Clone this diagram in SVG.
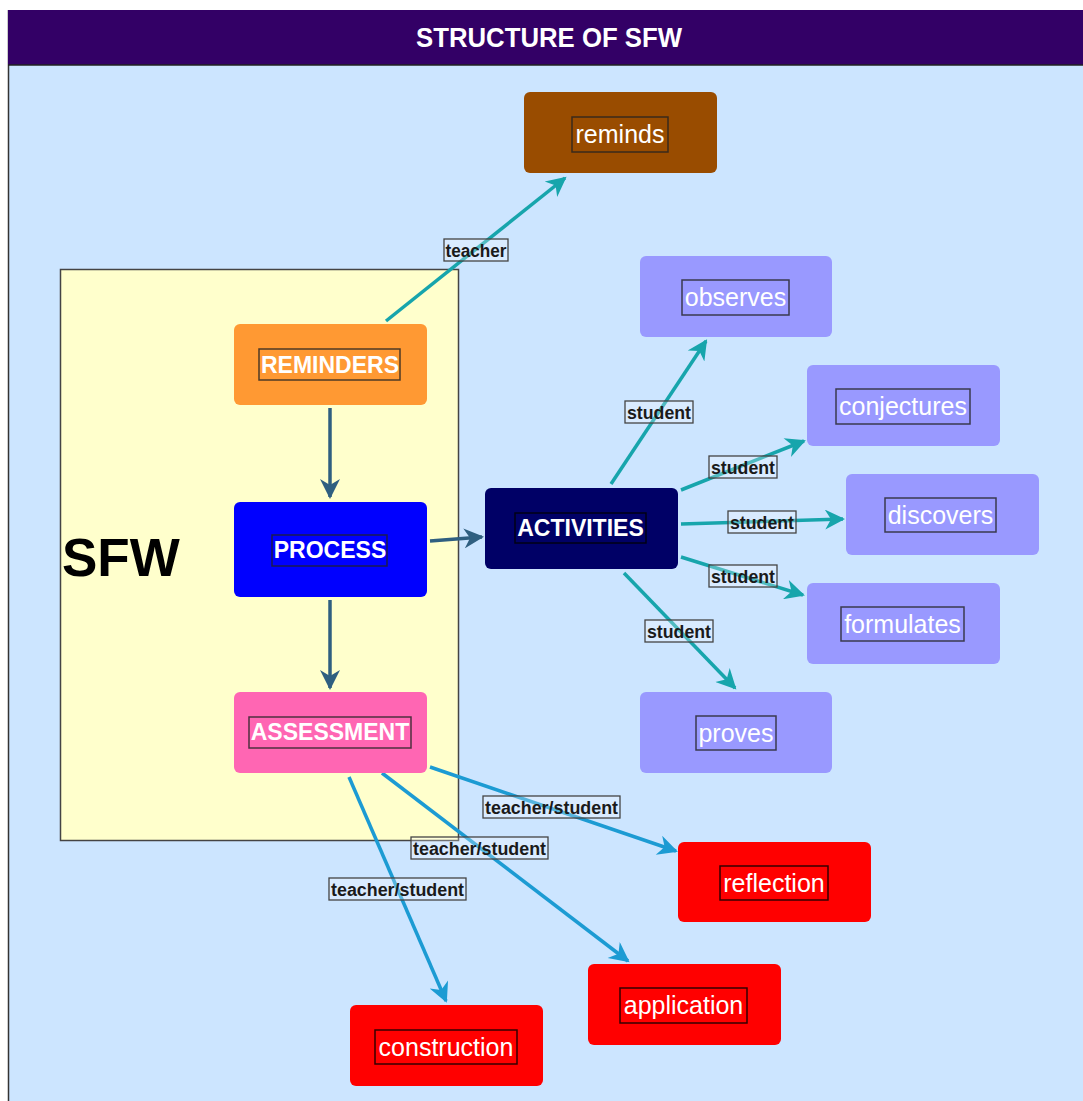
<svg xmlns="http://www.w3.org/2000/svg" width="1083" height="1101" viewBox="0 0 1083 1101">
<style>
.node{stroke:none}
.lb{fill:none;stroke:#222;stroke-width:1.5;stroke-opacity:0.8}
.bt{font-family:"Liberation Sans",Arial,sans-serif;font-weight:bold;font-size:23px;fill:#fff;text-anchor:middle}
.nt{font-family:"Liberation Sans",Arial,sans-serif;font-size:25px;fill:#fff;text-anchor:middle}
.el{fill:#fff;fill-opacity:0.25;stroke:#444;stroke-width:1.3}
.et{font-family:"Liberation Sans",Arial,sans-serif;font-weight:bold;font-size:18px;fill:#1a1a1a;text-anchor:middle}
.c1{stroke:#2F5F80;stroke-width:3.5;fill:none}
.c2{stroke:#17A5AC;stroke-width:3.5;fill:none}
.c3{stroke:#1C9BD3;stroke-width:3.5;fill:none}
</style>
<defs>
<marker id="a1" viewBox="0 0 10 10" refX="9" refY="5" markerUnits="userSpaceOnUse" markerWidth="22" markerHeight="20" orient="auto"><path d="M0,0 L10,5 L0,10 L3,5 z" fill="#2F5F80"/></marker>
<marker id="a2" viewBox="0 0 10 10" refX="9" refY="5" markerUnits="userSpaceOnUse" markerWidth="22" markerHeight="20" orient="auto"><path d="M0,0 L10,5 L0,10 L3,5 z" fill="#17A5AC"/></marker>
<marker id="a3" viewBox="0 0 10 10" refX="9" refY="5" markerUnits="userSpaceOnUse" markerWidth="22" markerHeight="20" orient="auto"><path d="M0,0 L10,5 L0,10 L3,5 z" fill="#1C9BD3"/></marker>
</defs>
<rect x="0" y="0" width="1083" height="1101" fill="#fff"/>
<rect x="8" y="65" width="1075" height="1036" fill="#CCE5FF"/>
<line x1="8.5" y1="10" x2="8.5" y2="1101" stroke="#333" stroke-width="1.5"/>
<g id="title">
<rect x="8" y="10" width="1075" height="55" fill="#330066"/>
<line x1="8" y1="65" x2="1083" y2="65" stroke="#222" stroke-width="1.5"/>
<text x="549" y="47" font-family="'Liberation Sans',Arial,sans-serif" font-weight="bold" font-size="27" fill="#fff" text-anchor="middle" textLength="266" lengthAdjust="spacingAndGlyphs">STRUCTURE OF SFW</text>
</g>
<g id="sfw">
<rect x="60.5" y="269.5" width="398" height="571" fill="#FFFFCC" stroke="#444" stroke-width="1.5"/>
<text x="62" y="576" font-family="'Liberation Sans',Arial,sans-serif" font-weight="bold" font-size="53" fill="#000">SFW</text>
</g>
<g id="connectors">
<line class="c1" x1="330" y1="408" x2="330" y2="497" marker-end="url(#a1)"/>
<line class="c1" x1="330" y1="600" x2="330" y2="688" marker-end="url(#a1)"/>
<line class="c1" x1="430" y1="541" x2="482" y2="537" marker-end="url(#a1)"/>
<line class="c2" x1="386" y1="321" x2="565" y2="178" marker-end="url(#a2)"/>
<line class="c2" x1="611" y1="484" x2="706" y2="341" marker-end="url(#a2)"/>
<line class="c2" x1="681" y1="490" x2="804" y2="441" marker-end="url(#a2)"/>
<line class="c2" x1="681" y1="524" x2="843" y2="519" marker-end="url(#a2)"/>
<line class="c2" x1="681" y1="557" x2="803" y2="595" marker-end="url(#a2)"/>
<line class="c2" x1="624" y1="573" x2="735" y2="688" marker-end="url(#a2)"/>
<line class="c3" x1="430" y1="767" x2="676" y2="851" marker-end="url(#a3)"/>
<line class="c3" x1="382" y1="773" x2="628" y2="961" marker-end="url(#a3)"/>
<line class="c3" x1="349" y1="777" x2="446" y2="1001" marker-end="url(#a3)"/>
<rect class="el" x="444" y="239" width="64" height="22"/><text class="et" x="476" y="256.5" textLength="61" lengthAdjust="spacingAndGlyphs">teacher</text>
<rect class="el" x="625" y="401" width="68" height="22"/><text class="et" x="659" y="418.5" textLength="64" lengthAdjust="spacingAndGlyphs">student</text>
<rect class="el" x="709" y="456" width="68" height="22"/><text class="et" x="743" y="473.5" textLength="64" lengthAdjust="spacingAndGlyphs">student</text>
<rect class="el" x="728" y="511" width="68" height="22"/><text class="et" x="762" y="528.5" textLength="64" lengthAdjust="spacingAndGlyphs">student</text>
<rect class="el" x="709" y="565" width="68" height="22"/><text class="et" x="743" y="582.5" textLength="64" lengthAdjust="spacingAndGlyphs">student</text>
<rect class="el" x="645" y="620" width="68" height="22"/><text class="et" x="679" y="637.5" textLength="64" lengthAdjust="spacingAndGlyphs">student</text>
<rect class="el" x="483" y="796" width="137" height="22"/><text class="et" x="551.5" y="813.5" textLength="133" lengthAdjust="spacingAndGlyphs">teacher/student</text>
<rect class="el" x="411" y="837" width="137" height="22"/><text class="et" x="479.5" y="854.5" textLength="133" lengthAdjust="spacingAndGlyphs">teacher/student</text>
<rect class="el" x="329" y="878" width="137" height="22"/><text class="et" x="397.5" y="895.5" textLength="133" lengthAdjust="spacingAndGlyphs">teacher/student</text>
</g>
<g id="reminders"><rect class="node" x="234" y="324" width="193" height="81" rx="6" fill="#FF9933"/><rect class="lb" x="259" y="349" width="141" height="31"/><text class="bt" x="330" y="373">REMINDERS</text></g>
<g id="process"><rect class="node" x="234" y="502" width="193" height="95" rx="6" fill="#0000FF"/><rect class="lb" x="272" y="535" width="115" height="31"/><text class="bt" x="330" y="558">PROCESS</text></g>
<g id="assessment"><rect class="node" x="234" y="692" width="193" height="81" rx="6" fill="#FF66B3"/><rect class="lb" x="249" y="717" width="162" height="31"/><text class="bt" x="330" y="740">ASSESSMENT</text></g>
<g id="activities"><rect class="node" x="485" y="488" width="193" height="81" rx="6" fill="#000066"/><rect class="lb" x="515" y="513" width="131" height="30" style="stroke:#000"/><text class="bt" x="580.5" y="536">ACTIVITIES</text></g>
<g id="reminds"><rect class="node" x="524" y="92" width="193" height="81" rx="6" fill="#994C00"/><rect class="lb" x="572" y="117" width="96" height="35"/><text class="nt" x="620" y="143">reminds</text></g>
<g id="observes"><rect class="node" x="640" y="256" width="192" height="81" rx="6" fill="#9999FF"/><rect class="lb" x="682" y="280" width="107" height="35"/><text class="nt" x="735.5" y="306">observes</text></g>
<g id="conjectures"><rect class="node" x="807" y="365" width="193" height="81" rx="6" fill="#9999FF"/><rect class="lb" x="836" y="389" width="134" height="35"/><text class="nt" x="903" y="415">conjectures</text></g>
<g id="discovers"><rect class="node" x="846" y="474" width="193" height="81" rx="6" fill="#9999FF"/><rect class="lb" x="885" y="498" width="111" height="34"/><text class="nt" x="940.5" y="524">discovers</text></g>
<g id="formulates"><rect class="node" x="807" y="583" width="193" height="81" rx="6" fill="#9999FF"/><rect class="lb" x="841" y="607" width="123" height="34"/><text class="nt" x="902.5" y="633">formulates</text></g>
<g id="proves"><rect class="node" x="640" y="692" width="192" height="81" rx="6" fill="#9999FF"/><rect class="lb" x="696" y="716" width="80" height="34"/><text class="nt" x="736" y="742">proves</text></g>
<g id="reflection"><rect class="node" x="678" y="842" width="193" height="80" rx="6" fill="#FF0000"/><rect class="lb" x="720" y="866" width="108" height="34" style="stroke:#000"/><text class="nt" x="774" y="892">reflection</text></g>
<g id="application"><rect class="node" x="588" y="964" width="193" height="81" rx="6" fill="#FF0000"/><rect class="lb" x="620" y="988" width="127" height="35" style="stroke:#000"/><text class="nt" x="683.5" y="1014">application</text></g>
<g id="construction"><rect class="node" x="350" y="1005" width="193" height="81" rx="6" fill="#FF0000"/><rect class="lb" x="375" y="1030" width="142" height="34" style="stroke:#000"/><text class="nt" x="446" y="1056">construction</text></g>
</svg>
